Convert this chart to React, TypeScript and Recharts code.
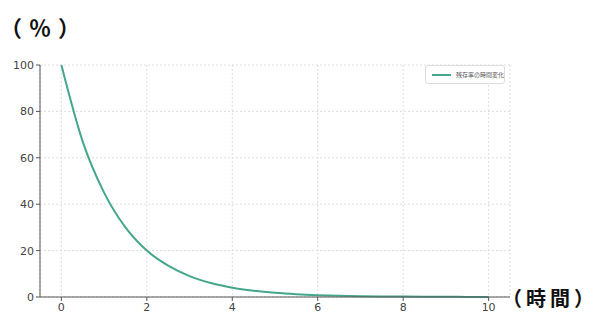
import { CartesianGrid, Line, LineChart, XAxis, YAxis } from "recharts"

const times = [0, 0.5, 1, 1.5, 2, 2.5, 3, 3.5, 4, 4.5, 5, 5.5, 6, 6.5, 7, 7.5, 8, 8.5, 9, 9.5, 10]
const remaining = [100, 67, 45, 30, 20, 13.5, 9, 6, 4, 2.7, 1.8, 1.2, 0.8, 0.55, 0.37, 0.25, 0.17, 0.11, 0.07, 0.05, 0.03]
const xTicks = [0, 2, 4, 6, 8, 10]
const yTicks = [0, 20, 40, 60, 80, 100]
const seriesName = "残存率の時間変化"

const data = times.map((t, i) => ({ t, value: remaining[i] }))

const color = "#44a68b"
const tickStyle = { fontSize: 11, fill: "#444", fontFamily: "DejaVu Sans" }

export default function App() {
  return (
    <div style={{ position: "absolute", left: 0, top: 0, width: 596, height: 322, background: "#fff" }}>
      <LineChart width={596} height={322} data={data} margin={{ top: 65, right: 86, bottom: 0, left: 0 }}>
        <CartesianGrid stroke="#ddd" strokeDasharray="2 2" />
        <XAxis
          dataKey="t"
          type="number"
          domain={[-0.5, 10.5]}
          ticks={xTicks}
          tick={tickStyle}
          height={25}
          stroke="#555"
          tickSize={4}
        />
        <YAxis
          type="number"
          domain={[0, 100]}
          ticks={yTicks}
          tick={tickStyle}
          width={40}
          stroke="#555"
          tickSize={4}
        />
        <Line
          type="monotone"
          dataKey="value"
          name={seriesName}
          stroke={color}
          strokeWidth={2}
          dot={false}
          isAnimationActive={false}
        />
      </LineChart>
      {/* legend */}
      <div
        style={{
          position: "absolute",
          left: 425,
          top: 65,
          width: 80,
          height: 19,
          boxSizing: "border-box",
          display: "flex",
          alignItems: "center",
          border: "1px solid #ddd",
          borderRadius: 3,
          background: "#fff",
          paddingLeft: 6,
          fontSize: 6,
          color: "#555",
          fontFamily: "Noto Sans CJK JP",
          whiteSpace: "nowrap",
        }}
      >
        <span style={{ display: "inline-block", width: 20, height: 2, background: color, marginRight: 5 }} />
        {seriesName}
      </div>
      <div
        style={{
          position: "absolute",
          left: 0,
          top: 10,
          fontSize: 22,
          fontWeight: 700,
          fontFamily: "Noto Sans CJK JP",
          color: "#111",
          whiteSpace: "nowrap",
        }}
      >
        <span style={{ letterSpacing: 7 }}>（％</span>）
      </div>
      <div
        style={{
          position: "absolute",
          left: 502,
          top: 283,
          fontSize: 20,
          fontWeight: 700,
          fontFamily: "Noto Sans CJK JP",
          color: "#111",
          whiteSpace: "nowrap",
        }}
      >
        <span style={{ letterSpacing: 4 }}>（時間</span>）
      </div>
    </div>
  )
}
